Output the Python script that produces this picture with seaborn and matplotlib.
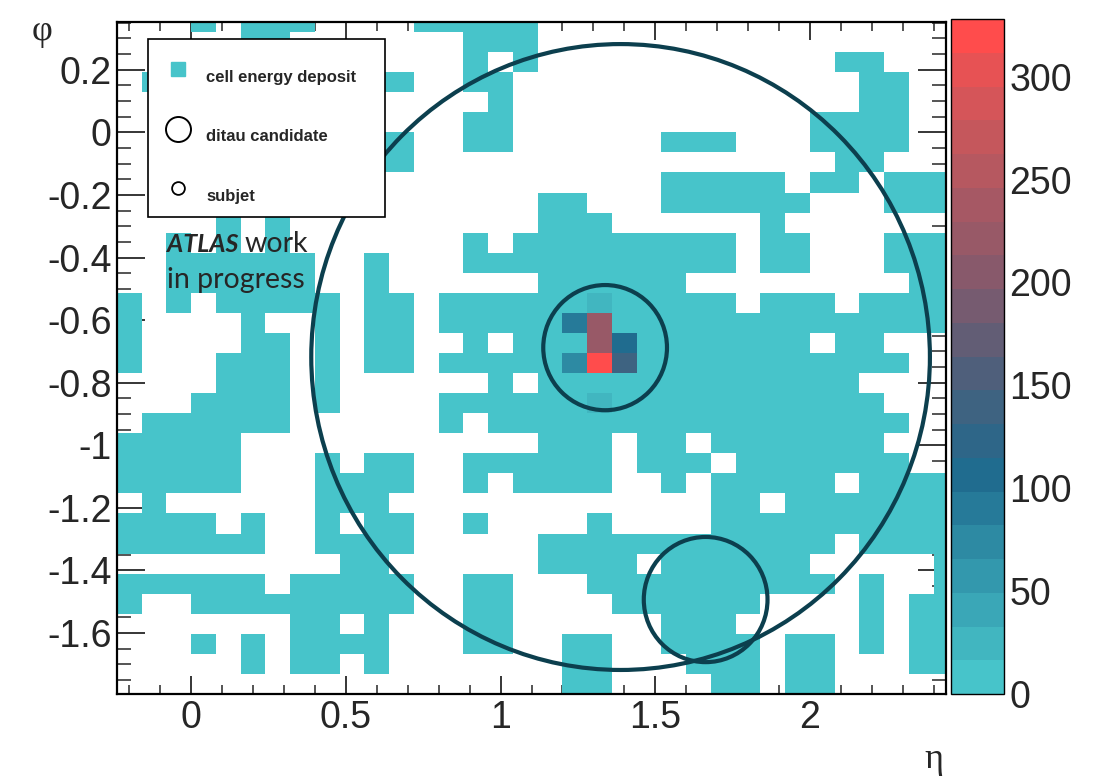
import numpy as np
import pandas as pd
import matplotlib
matplotlib.use("Agg")
import matplotlib.pyplot as plt
import seaborn as sns
from matplotlib.colors import LinearSegmentedColormap, ListedColormap
from matplotlib.patches import Ellipse, Rectangle
from matplotlib.lines import Line2D

# ---------------- data ----------------
ETA_BIN = 0.08          # cell width in eta
PHI_BIN = 0.0641        # cell height in phi
ETA_EDGE0 = -0.24       # left edge of first eta column
PHI_EDGE0 = 6 * PHI_BIN # top edge of first phi row
N_COLS = 34
N_ROWS = 34

# occupied eta-columns per phi-row (top to bottom); tuples are inclusive runs
occupied = [
    [3, (5, 7), (12, 16)],
    [5, 6, (14, 16)],
    [14, 16, 29, 30],
    [1, 10, 11, 14, 15, 30, 31],
    [15, 30, 31],
    [14, 15, (28, 31)],
    [10, 11, 14, 15, (22, 24), (28, 31)],
    [10, 11, 29, 30],
    [(22, 26), 28, 29, (31, 33)],
    [17, 18, (22, 27), (31, 33)],
    [4, 6, (17, 19), 26],
    [2, 4, 6, 14, (16, 24), 26, 27, (31, 33)],
    [(2, 7), 10, (14, 24), 26, 27, (31, 33)],
    [(2, 7), 10, (17, 22), 32, 33],
    [0, 2, (4, 8), 10, 11, (13, 24), (26, 28), (30, 33)],
    [0, 5, 8, 10, 11, (13, 33)],
    [0, 5, 6, 8, 10, 11, 14, (16, 27), 29, 30],
    [0, (4, 6), 8, 10, 11, (13, 31)],
    [(4, 6), 8, 15, (17, 29)],
    [(3, 6), 8, (13, 30)],
    [(1, 6), 13, (15, 31)],
    [(0, 4), (17, 19), 21, 22, (24, 30)],
    [(0, 4), 8, 10, 11, (14, 19), (21, 23), (25, 31)],
    [(0, 4), (8, 11), 14, (16, 19), 22, (24, 28), (30, 33)],
    [1, (8, 10), 24, 25, (27, 33)],
    [(0, 3), 5, 8, 10, 11, 14, 19, (24, 33)],
    [(0, 5), (8, 11), (17, 28), (30, 33)],
    [9, 10, (17, 20), (22, 27), 33],
    [(0, 5), (7, 11), 14, 15, (19, 28), 30, 33],
    [0, (3, 11), 14, 15, (20, 25), 30, 32, 33],
    [7, 8, 10, 14, 15, (22, 24), 30, 32, 33],
    [3, 5, (7, 10), 14, 15, 18, 19, (22, 25), 27, 28, 30, 32, 33],
    [5, 7, 8, 10, 18, 19, (23, 25), 27, 28, 32, 33],
    [18, 19, 24, 25, 27, 28],
]
base_energy = 5.0

hot_col = [19, 18, 19, 19, 20, 18, 19, 20, 19]
hot_row = [14, 15, 15, 16, 16, 17, 17, 17, 19]
hot_val = [25, 95, 215, 215, 108, 70, 325, 135, 25]

VMAX = 328
cbar_ticks = [0, 50, 100, 150, 200, 250, 300]

circle_eta = [1.388, 1.338, 1.663]
circle_phi = [-0.718, -0.688, -1.493]
circle_r = [1.0, 0.2, 0.2]

x_major = [0, 0.5, 1, 1.5, 2]
x_major_labels = ["0", "0.5", "1", "1.5", "2"]
y_major = [0.2, 0, -0.2, -0.4, -0.6, -0.8, -1.0, -1.2, -1.4, -1.6]
y_major_labels = ["0.2", "0", "-0.2", "-0.4", "-0.6", "-0.8", "-1", "-1.2", "-1.4", "-1.6"]

legend_labels = ["cell energy deposit", "ditau candidate", "subjet"]

# ---------------- grid ----------------
Z = np.full((N_ROWS, N_COLS), np.nan)
for r, items in enumerate(occupied):
    for it in items:
        if isinstance(it, tuple):
            Z[r, it[0]:it[1] + 1] = base_energy
        else:
            Z[r, it] = base_energy
for c, r, v in zip(hot_col, hot_row, hot_val):
    Z[r, c] = v

eta_centers = np.round(ETA_EDGE0 + (np.arange(N_COLS) + 0.5) * ETA_BIN, 3)
phi_centers = np.round(PHI_EDGE0 - (np.arange(N_ROWS) + 0.5) * PHI_BIN, 3)
df = pd.DataFrame(Z, index=phi_centers, columns=eta_centers)


def xi(eta):
    return (np.asarray(eta) - ETA_EDGE0) / ETA_BIN


def yi(phi):
    return (PHI_EDGE0 - np.asarray(phi)) / PHI_BIN


# ---------------- style ----------------
sns.set_style("ticks")
plt.rcParams["font.family"] = ["Liberation Sans", "DejaVu Sans"]
plt.rcParams["axes.unicode_minus"] = False

anchors = [(0.0, "#47C4CA"), (0.32, "#1F6A8E"), (0.47, "#4D5F7B"),
           (0.62, "#85596C"), (0.80, "#B8585F"), (0.93, "#DE5457"), (1.0, "#FF4C4C")]
cont = LinearSegmentedColormap.from_list("root_like", anchors)
cmap = ListedColormap([cont(k / 19) for k in range(20)])

W, H = 1105, 778
AX_L, AX_R, AX_T, AX_B = 117, 946, 22, 694
fig = plt.figure(figsize=(W / 100, H / 100), dpi=100)
ax = fig.add_axes([AX_L / W, 1 - AX_B / H, (AX_R - AX_L) / W, (AX_B - AX_T) / H])
cax = fig.add_axes([951 / W, 1 - 694 / H, 53 / W, 675 / H])

sns.heatmap(df, ax=ax, cbar_ax=cax, cmap=cmap, vmin=0, vmax=VMAX,
            mask=np.isnan(Z), xticklabels=False, yticklabels=False,
            linewidths=0, cbar_kws={"ticks": cbar_ticks})

ax.set_xlim(0, xi(ETA_EDGE0 + 33.5 * ETA_BIN))
ax.set_ylim(yi(-28 * PHI_BIN), yi(5.5 * PHI_BIN))
ax.set_axisbelow(True)
for s in ax.spines.values():
    s.set_visible(True)
    s.set_linewidth(1.6)
    s.set_color("black")

# circles
circ_color = "#0C3F4E"
for e, p, r in zip(circle_eta, circle_phi, circle_r):
    ax.add_patch(Ellipse((xi(e), yi(p)), width=2 * r / ETA_BIN, height=2 * r / PHI_BIN,
                         fill=False, edgecolor=circ_color, linewidth=3.0, zorder=5))

# ticks
ax.set_xticks(xi(x_major))
ax.set_xticklabels(x_major_labels)
ax.set_xticks(xi(np.arange(-0.2, 2.45, 0.1)), minor=True)
ax.set_yticks(yi(y_major))
ax.set_yticklabels(y_major_labels)
ax.set_yticks(yi(np.arange(-1.75, 0.36, 0.05)), minor=True)
ax.tick_params(axis="x", which="major", direction="in", length=13, width=1.3,
               top=True, bottom=True, labelsize=27, pad=4)
ax.tick_params(axis="x", which="minor", direction="in", length=6.5, width=1.1,
               top=True, bottom=True)
ax.tick_params(axis="y", which="major", direction="in", length=20, width=1.3,
               left=True, right=True, labelsize=27, pad=4, labelrotation=0)
ax.tick_params(axis="y", which="minor", direction="in", length=10, width=1.1,
               left=True, right=True)
ax.set_xlabel("")
ax.set_ylabel("")

# colorbar
cbar = ax.collections[0].colorbar
cbar.outline.set_linewidth(1.0)
cbar.outline.set_edgecolor("black")
cax.yaxis.set_ticks_position("right")
cax.tick_params(direction="in", length=20, width=1.3, labelsize=27, pad=4)
cax.minorticks_off()


# legend (ROOT-style box), positioned in axes fraction from pixel layout
def axf(px, py):
    return ((px - AX_L) / (AX_R - AX_L), (AX_B - py) / (AX_B - AX_T))


bx0, by0 = axf(148, 217)
bx1, by1 = axf(385, 39)
ax.add_patch(Rectangle((bx0, by0), bx1 - bx0, by1 - by0, transform=ax.transAxes,
                       facecolor="white", edgecolor="black", linewidth=1.2,
                       zorder=15, clip_on=False))
marker_specs = [
    dict(marker="s", markersize=10, markerfacecolor=cont(0.0), markeredgecolor=cont(0.0)),
    dict(marker="o", markersize=18, markerfacecolor="none", markeredgecolor="black",
         markeredgewidth=1.4),
    dict(marker="o", markersize=9.2, markerfacecolor="none", markeredgecolor="black",
         markeredgewidth=1.3),
]
marker_py = [69, 128.5, 188]
text_py = [82, 141, 201]
for spec, mpy, tpy, lab in zip(marker_specs, marker_py, text_py, legend_labels):
    mx, my = axf(177.5, mpy)
    ax.add_line(Line2D([mx], [my], transform=ax.transAxes, linestyle="none",
                       zorder=16, clip_on=False, **spec))
    tx, ty = axf(206, tpy)
    ax.text(tx, ty, lab, transform=ax.transAxes, fontsize=12, fontweight="bold",
            family=["Liberation Sans", "DejaVu Sans"], va="baseline", ha="left",
            zorder=17)

# ATLAS label
t_atlas = fig.text(167 / W, 1 - 252 / H, "ATLAS", fontsize=18, fontweight="bold",
                   fontstyle="italic", family=["Lato", "DejaVu Sans"],
                   va="baseline", ha="left", zorder=20)
fig.canvas.draw()
bb = t_atlas.get_window_extent(renderer=fig.canvas.get_renderer())
fig.text((bb.x1 + 6) / W, 1 - 252 / H, "work", fontsize=20.5,
         family=["Lato", "DejaVu Sans"], va="baseline", ha="left", zorder=20)
fig.text(167 / W, 1 - 288 / H, "in progress", fontsize=20.5,
         family=["Lato", "DejaVu Sans"], va="baseline", ha="left", zorder=20)

# axis titles
fig.text(934 / W, 1 - 768 / H, "η", fontsize=26, family=["Liberation Serif", "DejaVu Serif"],
         ha="center", va="baseline")
fig.text(42 / W, 1 - 31 / H, "φ", fontsize=26, family=["Liberation Serif", "DejaVu Serif"],
         ha="center", va="center")

fig.savefig("out.png", dpi=100)
